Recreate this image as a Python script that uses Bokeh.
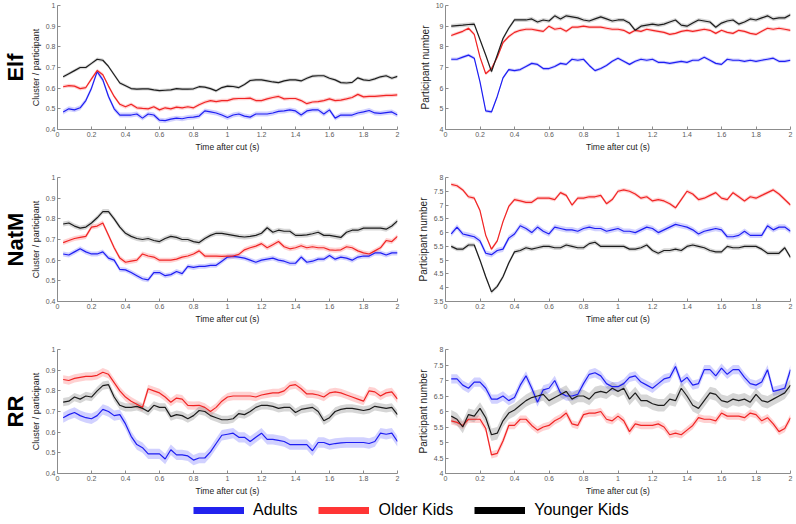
from bokeh.plotting import figure
from bokeh.layouts import column, row
from bokeh.models import Range1d, Title, Legend, LegendItem, FixedTicker, NumeralTickFormatter
from bokeh.embed import file_html
from bokeh.resources import INLINE

# ---------------- data ----------------
TIME = [round(k / 30, 4) for k in range(1, 61)]
X_TICKS = [0, 0.2, 0.4, 0.6, 0.8, 1.0, 1.2, 1.4, 1.6, 1.8, 2.0]
GROUPS = ["Adults", "Older Kids", "Younger Kids"]
ROWS = ["Elf", "NatM", "RR"]

CLU_TICKS = [0.4, 0.5, 0.6, 0.7, 0.8, 0.9, 1.0]
ELF_PN_TICKS = [4, 5, 6, 7, 8, 9, 10]
NATM_PN_TICKS = [3.5, 4, 4.5, 5, 5.5, 6, 6.5, 7, 7.5, 8]
RR_PN_TICKS = [4, 4.5, 5, 5.5, 6, 6.5, 7, 7.5, 8]

ELF_CLU_ADULTS = [0.485,0.5,0.495,0.505,0.54,0.6,0.68,0.64,0.56,0.5, 0.47,0.47,0.47,0.475,0.455,0.475,0.47,0.445,0.443,0.45,
                  0.455,0.452,0.458,0.46,0.465,0.49,0.485,0.48,0.47,0.458, 0.47,0.475,0.465,0.46,0.475,0.475,0.475,0.48,0.488,0.49,
                  0.495,0.49,0.47,0.49,0.495,0.495,0.475,0.495,0.455,0.47, 0.47,0.47,0.48,0.485,0.492,0.48,0.478,0.482,0.485,0.47]
ELF_CLU_OLDER = [0.607,0.612,0.61,0.598,0.603,0.645,0.685,0.665,0.61,0.56, 0.522,0.51,0.522,0.505,0.502,0.5,0.51,0.495,0.505,0.5,
                 0.508,0.505,0.51,0.505,0.52,0.532,0.54,0.535,0.54,0.54, 0.548,0.55,0.55,0.552,0.54,0.54,0.548,0.555,0.56,0.548,
                 0.55,0.55,0.54,0.525,0.533,0.535,0.54,0.548,0.54,0.542, 0.548,0.555,0.57,0.558,0.56,0.56,0.563,0.565,0.565,0.568]
ELF_CLU_YOUNGER = [0.655,0.67,0.685,0.70,0.70,0.72,0.74,0.735,0.705,0.665, 0.625,0.612,0.598,0.595,0.597,0.597,0.592,0.588,0.59,0.592,
                   0.598,0.595,0.595,0.597,0.607,0.605,0.598,0.587,0.603,0.61, 0.608,0.603,0.618,0.637,0.64,0.64,0.635,0.63,0.627,0.635,
                   0.64,0.64,0.635,0.648,0.658,0.66,0.66,0.648,0.64,0.627, 0.625,0.628,0.65,0.64,0.637,0.645,0.655,0.66,0.648,0.657]

ELF_PN_ADULTS = [7.4,7.4,7.5,7.6,7.45,6.3,4.9,4.85,5.6,6.5, 6.9,6.85,6.9,7.05,7.2,7.15,6.95,6.95,7.05,7.2,
                 7.15,7.4,7.35,7.4,7.1,6.85,6.95,7.1,7.3,7.45, 7.3,7.15,7.3,7.4,7.35,7.4,7.25,7.25,7.2,7.25,
                 7.3,7.25,7.35,7.35,7.5,7.35,7.2,7.15,7.4,7.35, 7.35,7.3,7.35,7.3,7.35,7.4,7.45,7.3,7.3,7.35]
ELF_PN_OLDER = [8.55,8.65,8.75,8.9,8.6,7.5,6.7,6.95,7.5,8.2, 8.5,8.7,8.8,8.85,8.85,8.8,8.75,9.0,8.85,8.9,
                8.75,8.95,8.95,9.0,8.95,8.95,8.95,8.9,8.85,8.85, 8.8,8.65,8.8,8.75,8.85,8.8,8.75,8.7,8.6,8.65,
                8.75,8.8,8.75,8.8,8.85,8.8,8.65,8.8,8.7,8.65, 8.8,8.75,8.65,8.6,8.75,8.9,8.85,8.9,8.85,8.8]
ELF_PN_YOUNGER = [9.0,9.03,9.05,9.08,9.1,8.35,7.6,6.8,7.6,8.4, 8.9,9.3,9.3,9.3,9.35,9.2,9.3,9.25,9.5,9.35,
                  9.5,9.45,9.4,9.3,9.25,9.35,9.45,9.35,9.25,9.3, 9.3,9.15,8.8,9.0,9.05,9.1,9.05,9.1,9.2,9.3,
                  9.05,9.0,9.15,9.3,9.25,9.2,8.95,9.15,9.25,9.3, 9.1,9.2,9.35,9.3,9.4,9.5,9.35,9.4,9.4,9.55]

NATM_CLU_ADULTS = [0.63,0.625,0.64,0.655,0.64,0.63,0.63,0.64,0.61,0.6, 0.555,0.553,0.54,0.525,0.51,0.505,0.54,0.54,0.525,0.53,
                   0.545,0.535,0.57,0.565,0.57,0.57,0.575,0.575,0.595,0.615, 0.618,0.615,0.61,0.6,0.59,0.6,0.605,0.61,0.6,0.595,
                   0.585,0.585,0.615,0.59,0.595,0.605,0.605,0.623,0.605,0.615, 0.61,0.6,0.615,0.62,0.62,0.635,0.635,0.625,0.635,0.635]
NATM_CLU_OLDER = [0.685,0.695,0.705,0.71,0.715,0.76,0.765,0.78,0.72,0.66, 0.61,0.59,0.595,0.6,0.63,0.62,0.615,0.6,0.6,0.6,
                  0.605,0.615,0.62,0.63,0.645,0.62,0.62,0.62,0.618,0.62, 0.62,0.628,0.65,0.66,0.668,0.68,0.66,0.675,0.69,0.665,
                  0.655,0.66,0.67,0.66,0.665,0.66,0.66,0.65,0.648,0.65, 0.665,0.66,0.645,0.635,0.63,0.645,0.66,0.695,0.69,0.715]
NATM_CLU_YOUNGER = [0.775,0.78,0.765,0.755,0.76,0.78,0.805,0.835,0.835,0.8, 0.76,0.73,0.715,0.705,0.7,0.705,0.695,0.69,0.705,0.715,
                    0.71,0.7,0.7,0.69,0.685,0.705,0.72,0.73,0.73,0.725, 0.72,0.715,0.712,0.715,0.72,0.73,0.757,0.735,0.745,0.74,
                    0.74,0.72,0.72,0.722,0.728,0.735,0.72,0.72,0.715,0.71, 0.735,0.745,0.745,0.755,0.755,0.755,0.755,0.75,0.765,0.79]

NATM_PN_ADULTS = [5.95,6.2,5.95,5.9,5.85,5.7,5.25,5.2,5.35,5.4, 5.8,5.95,6.25,6.15,6.0,6.2,6.05,5.95,6.2,6.15,
                  6.1,6.1,6.05,6.15,6.2,6.15,6.15,6.05,6.1,6.15, 6.05,6.05,6.0,6.1,6.2,6.15,6.0,6.1,6.2,6.3,
                  6.25,6.2,6.1,5.95,6.05,6.1,6.15,6.1,5.85,5.85, 5.9,6.05,5.9,5.9,5.9,6.25,6.1,6.2,6.2,6.05]
NATM_PN_OLDER = [7.75,7.7,7.55,7.3,7.25,6.8,5.9,5.4,5.7,6.4, 6.95,7.2,7.15,7.1,7.1,7.25,7.25,7.25,7.2,7.45,
                 7.35,7.0,7.25,7.25,7.3,7.3,7.35,7.05,7.2,7.5, 7.55,7.5,7.4,7.25,7.3,7.15,7.2,7.15,7.05,6.9,
                 7.2,7.5,7.4,7.2,7.25,7.35,7.45,7.25,7.2,7.45, 7.3,7.15,7.3,7.25,7.35,7.45,7.55,7.4,7.2,7.0]
NATM_PN_YOUNGER = [5.5,5.4,5.4,5.55,5.55,5.0,4.4,3.85,4.05,4.4, 4.9,5.3,5.35,5.45,5.4,5.45,5.5,5.5,5.45,5.45,
                   5.55,5.5,5.45,5.45,5.6,5.65,5.5,5.5,5.5,5.5, 5.5,5.4,5.4,5.45,5.55,5.35,5.25,5.35,5.35,5.4,
                   5.35,5.5,5.55,5.5,5.45,5.35,5.3,5.3,5.5,5.45, 5.45,5.5,5.5,5.5,5.4,5.25,5.25,5.25,5.45,5.1]

RR_CLU_ADULTS = [0.67,0.685,0.695,0.68,0.67,0.665,0.68,0.71,0.7,0.68, 0.685,0.64,0.58,0.54,0.525,0.495,0.495,0.495,0.47,0.515,
                 0.49,0.49,0.485,0.465,0.475,0.475,0.505,0.545,0.585,0.59, 0.595,0.575,0.575,0.555,0.575,0.595,0.565,0.565,0.56,0.555,
                 0.54,0.54,0.54,0.54,0.51,0.55,0.55,0.54,0.545,0.548, 0.55,0.55,0.55,0.55,0.545,0.555,0.595,0.59,0.595,0.555]
RR_CLU_OLDER = [0.855,0.85,0.86,0.865,0.87,0.87,0.875,0.89,0.88,0.84, 0.8,0.77,0.75,0.735,0.72,0.81,0.8,0.79,0.77,0.745,
                0.765,0.76,0.73,0.728,0.73,0.72,0.7,0.72,0.75,0.77, 0.775,0.775,0.775,0.775,0.77,0.78,0.785,0.79,0.79,0.8,
                0.825,0.83,0.81,0.785,0.785,0.78,0.77,0.79,0.795,0.79, 0.78,0.77,0.76,0.75,0.8,0.795,0.775,0.79,0.795,0.76]
RR_CLU_YOUNGER = [0.745,0.75,0.77,0.76,0.775,0.77,0.8,0.825,0.83,0.77, 0.73,0.72,0.72,0.725,0.715,0.7,0.73,0.72,0.72,0.675,
                  0.685,0.68,0.665,0.68,0.705,0.7,0.68,0.67,0.66,0.66, 0.665,0.69,0.685,0.7,0.72,0.73,0.73,0.725,0.715,0.72,
                  0.72,0.695,0.71,0.715,0.72,0.7,0.655,0.67,0.7,0.71, 0.715,0.715,0.71,0.705,0.71,0.725,0.72,0.715,0.72,0.685]

RR_PN_ADULTS = [7.05,7.05,6.85,6.75,6.95,6.95,6.75,6.4,6.4,6.5, 6.35,6.45,6.85,7.15,6.75,6.3,6.7,6.75,7.0,6.6,
                6.5,6.5,6.55,6.9,7.2,7.25,7.15,6.9,6.8,6.8, 6.9,7.1,7.15,6.95,6.85,6.75,6.9,7.05,7.1,7.45,
                6.95,7.1,6.85,6.9,7.35,7.35,7.15,7.4,7.2,7.35, 7.35,7.1,6.9,6.85,6.95,7.35,6.65,6.7,6.75,7.35]
RR_PN_OLDER = [5.7,5.65,5.55,5.75,5.75,5.75,5.45,4.6,4.65,5.05, 5.55,5.55,5.75,5.75,5.55,5.4,5.5,5.55,5.7,5.8,
               5.95,5.6,5.55,5.9,5.95,5.95,6.0,5.75,5.7,5.85, 5.7,5.35,5.6,5.55,5.55,5.55,5.6,5.5,5.25,5.3,
               5.25,5.4,5.55,5.8,5.75,5.75,5.7,5.95,5.85,5.85, 5.85,5.8,5.95,5.9,5.7,5.8,5.6,5.35,5.45,5.8]
RR_PN_YOUNGER = [5.85,5.75,5.5,5.9,5.85,6.1,5.8,5.25,5.3,5.7, 5.95,6.05,6.2,6.35,6.45,6.5,6.55,6.35,6.45,6.55,
                 6.65,6.4,6.5,6.5,6.4,6.6,6.65,6.6,6.75,6.65, 6.75,6.4,6.6,6.35,6.35,6.25,6.2,6.2,6.4,6.35,
                 6.75,6.5,6.2,6.1,6.35,6.6,6.55,6.35,6.3,6.4, 6.35,6.4,6.3,6.55,6.35,6.3,6.4,6.5,6.6,6.85]

# half-widths of the shaded error bands (adults, older, younger)
ELF_CLU_SE = [0.012, 0.009, 0.008]
ELF_PN_SE = [0.08, 0.08, 0.1]
NATM_CLU_SE = [0.012, 0.012, 0.012]
NATM_PN_SE = [0.1, 0.07, 0.08]
RR_CLU_SE = [0.025, 0.02, 0.02]
RR_PN_SE = [0.15, 0.12, 0.2]

# ---------------- style ----------------
LINE_COLORS = ["#1e1ef2", "#f02424", "#1c1c1c"]
BAND_COLORS = ["#6666ff", "#ff6666", "#777777"]
LEGEND_COLORS = ["#2222ee", "#ff3535", "#000000"]
FONT = "Liberation Sans"
FRAME_H = 124


def style_axis(ax, label, label_size):
    ax.axis_label = label
    ax.axis_label_text_font = FONT
    ax.axis_label_text_font_size = label_size
    ax.axis_label_text_font_style = "normal"
    ax.axis_label_text_color = "#222222"
    ax.axis_label_standoff = 2
    ax.axis_line_color = "#8c8c8c"
    ax.major_tick_line_color = "#8c8c8c"
    ax.major_tick_in = 3
    ax.major_tick_out = 0
    ax.minor_tick_line_color = None
    ax.major_label_text_font = FONT
    ax.major_label_text_font_size = "7px"
    ax.major_label_text_color = "#5a5a5a"
    ax.major_label_standoff = 2
    ax.formatter = NumeralTickFormatter(format="0.[0]")


def panel(series, se, yrange, yticks, ylabel, left, row_title=None, bottom=43):
    p = figure(frame_width=340 if left else 345, frame_height=FRAME_H,
               x_range=Range1d(0, 2), y_range=Range1d(*yrange),
               output_backend="svg", toolbar_location=None,
               min_border_left=50 if left else 34, min_border_right=14 if left else 3,
               min_border_top=5, min_border_bottom=bottom)
    p.outline_line_color = None
    p.grid.visible = False
    for vals, hw, bc in zip(series, se, BAND_COLORS):
        p.varea(x=TIME, y1=[v - hw for v in vals], y2=[v + hw for v in vals],
                fill_color=bc, fill_alpha=0.3)
    for vals, c in zip(series, LINE_COLORS):
        p.line(x=TIME, y=vals, line_color=c, line_width=1.2)
    xa, ya = p.xaxis[0], p.yaxis[0]
    xa.ticker = FixedTicker(ticks=X_TICKS)
    ya.ticker = FixedTicker(ticks=yticks)
    style_axis(xa, "Time after cut (s)", "8.5px")
    style_axis(ya, ylabel, "9px" if left else "10px")
    if row_title:
        p.add_layout(Title(text=row_title, text_font=FONT, text_font_size="22px",
                           text_font_style="bold", text_color="black",
                           align="center", standoff=0), "left")
    return p


CL = "Cluster / participant"
PN = "Participant number"
r1 = row(
    panel([ELF_CLU_ADULTS, ELF_CLU_OLDER, ELF_CLU_YOUNGER], ELF_CLU_SE, (0.4, 1.0), CLU_TICKS, CL, True, ROWS[0]),
    panel([ELF_PN_ADULTS, ELF_PN_OLDER, ELF_PN_YOUNGER], ELF_PN_SE, (4, 10), ELF_PN_TICKS, PN, False),
)
r2 = row(
    panel([NATM_CLU_ADULTS, NATM_CLU_OLDER, NATM_CLU_YOUNGER], NATM_CLU_SE, (0.4, 1.0), CLU_TICKS, CL, True, ROWS[1]),
    panel([NATM_PN_ADULTS, NATM_PN_OLDER, NATM_PN_YOUNGER], NATM_PN_SE, (3.5, 8), NATM_PN_TICKS, PN, False),
)
r3 = row(
    panel([RR_CLU_ADULTS, RR_CLU_OLDER, RR_CLU_YOUNGER], RR_CLU_SE, (0.4, 1.0), CLU_TICKS, CL, True, ROWS[2], bottom=27),
    panel([RR_PN_ADULTS, RR_PN_OLDER, RR_PN_YOUNGER], RR_PN_SE, (4, 8), RR_PN_TICKS, PN, False, bottom=27),
)

# legend strip
NAN = float("nan")
leg = figure(width=780, height=20, x_range=Range1d(0, 1), y_range=Range1d(0, 1),
             x_axis_type=None, y_axis_type=None, output_backend="svg",
             toolbar_location=None, min_border=0)
leg.outline_line_color = None
leg.grid.visible = False
items = []
for name, c in zip(GROUPS, LEGEND_COLORS):
    r = leg.line(x=[NAN], y=[NAN], line_color=c, line_width=7)
    items.append(LegendItem(label=name, renderers=[r]))
legend = Legend(items=items, orientation="horizontal", location=(193, 0),
                glyph_width=51, glyph_height=20, label_height=20, label_standoff=9,
                spacing=21, padding=0, margin=0,
                label_text_font=FONT, label_text_font_size="16px", label_text_color="black",
                border_line_alpha=0, background_fill_alpha=0)
leg.add_layout(legend)

layout = column(r1, r2, r3, leg)

open("out.html", "w").write(file_html(layout, INLINE))
